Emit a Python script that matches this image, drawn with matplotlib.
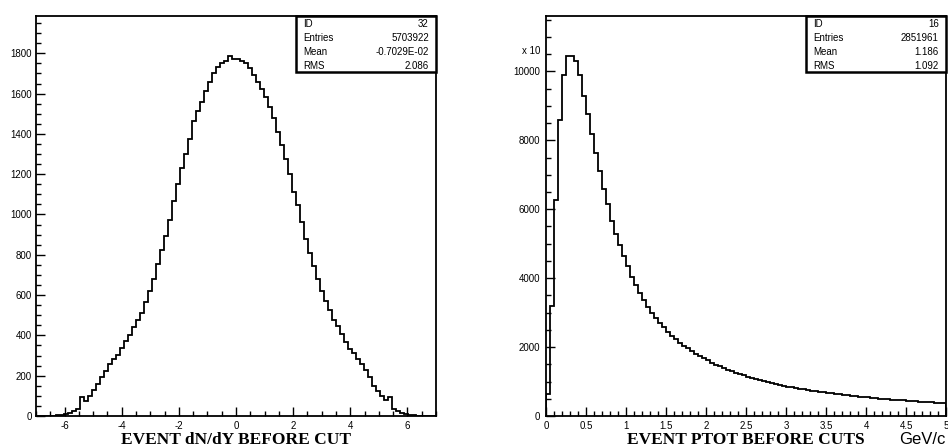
import numpy as np
import matplotlib
matplotlib.use("Agg")
import matplotlib.pyplot as plt
from matplotlib import font_manager
from matplotlib.patches import Rectangle
from matplotlib.ticker import MultipleLocator, FormatStrFormatter

# pick the regular (not Narrow) Liberation Sans as a Helvetica stand-in
sans = "Liberation Sans"
for f in font_manager.fontManager.ttflist:
    if f.name == "Liberation Sans" and "Narrow" not in f.fname \
            and f.style == "normal" and f.weight in (400, "normal"):
        font_manager.fontManager.addfont(f.fname)
        sans = font_manager.FontProperties(fname=f.fname).get_name()
        sans_file = f.fname
        break
else:
    sans_file = None

plt.rcParams["font.family"] = [sans, "DejaVu Sans"]
plt.rcParams["axes.unicode_minus"] = False

# ---------------------------------------------------------------------------
# Histogram 32 : EVENT dN/dY BEFORE CUT  (100 bins, -7 .. 7)
# ---------------------------------------------------------------------------
dndy_range = (-7.0, 7.0)
dndy_counts = [
    0, 0, 0, 0, 0, 3, 6, 9, 17, 25,
    33, 96, 74, 98, 127, 159, 192, 225, 256, 281,
    304, 336, 371, 402, 443, 475, 513, 564, 619, 680,
    753, 826, 892, 973, 1068, 1151, 1229, 1300, 1376, 1463,
    1515, 1560, 1615, 1659, 1701, 1734, 1754, 1764, 1787, 1774,
    1770, 1764, 1754, 1725, 1691, 1659, 1623, 1582, 1535, 1477,
    1411, 1343, 1277, 1201, 1113, 1047, 961, 880, 811, 746,
    682, 622, 571, 526, 476, 448, 405, 369, 334, 311,
    283, 256, 228, 192, 151, 126, 99, 78, 96, 36,
    26, 17, 12, 7, 5, 2, 0, 0, 0, 0,
]
dndy_stats = [("ID", "32"), ("Entries", "5703922"),
              ("Mean", "-0.7029E-02"), ("RMS", "2.086")]

# ---------------------------------------------------------------------------
# Histogram 16 : EVENT PTOT BEFORE CUTS  (100 bins, 0 .. 5 GeV/c), units x 10
# ---------------------------------------------------------------------------
ptot_range = (0.0, 5.0)
ptot_counts = [
    650, 3200, 6270, 8580, 9900, 10450, 10450, 10290, 9900, 9290,
    8760, 8170, 7640, 7100, 6600, 6140, 5670, 5280, 4950, 4630,
    4350, 4040, 3790, 3580, 3370, 3170, 3000, 2830, 2690, 2570,
    2440, 2330, 2240, 2130, 2040, 1960, 1880, 1810, 1740, 1680,
    1620, 1540, 1490, 1440, 1390, 1345, 1300, 1260, 1220, 1180,
    1140, 1105, 1070, 1040, 1010, 980, 955, 930, 905, 880,
    855, 830, 810, 790, 770, 750, 735, 718, 702, 688,
    675, 660, 645, 630, 615, 600, 588, 575, 563, 550,
    538, 527, 516, 505, 495, 485, 476, 467, 458, 450,
    442, 434, 426, 418, 410, 403, 396, 389, 382, 375,
]
ptot_stats = [("ID", "16"), ("Entries", "2851961"),
              ("Mean", "1.186"), ("RMS", "1.092")]


def style_axes(ax, ypad):
    for s in ax.spines.values():
        s.set_linewidth(1.3)
    ax.tick_params(axis="both", which="both", direction="in",
                   top=False, right=False, width=1.0, labelsize=7)
    ax.tick_params(axis="both", which="major", length=6.5)
    ax.tick_params(axis="both", which="minor", length=3.3)
    ax.tick_params(axis="y", which="major", pad=ypad)
    ax.tick_params(axis="x", which="major", pad=3.5)


def stats_box(ax, rows):
    ax.add_patch(Rectangle((0.65, 0.86), 0.35, 0.14, transform=ax.transAxes,
                           facecolor="white", edgecolor="black",
                           linewidth=1.8, zorder=5, clip_on=False))
    for i, (name, val) in enumerate(rows):
        y = 1.0 - (0.0192 + 0.035 * i)
        ax.text(0.667, y, name, transform=ax.transAxes, fontsize=7,
                va="center", ha="left", zorder=6)
        ax.text(0.982, y, val, transform=ax.transAxes, fontsize=7,
                va="center", ha="right", zorder=6)


fig = plt.figure(figsize=(9.48, 4.48), dpi=100)
ax1 = fig.add_axes([36 / 948, 32 / 448, 400 / 948, 400 / 448])
ax2 = fig.add_axes([546 / 948, 32 / 448, 400 / 948, 400 / 448])

label_y = -0.071

# left panel
edges1 = np.linspace(dndy_range[0], dndy_range[1], len(dndy_counts) + 1)
ax1.stairs(dndy_counts, edges1, color="black", linewidth=1.3)
ax1.set_xlim(*dndy_range)
ax1.set_ylim(0, 1985)
ax1.xaxis.set_major_locator(MultipleLocator(2))
ax1.xaxis.set_minor_locator(MultipleLocator(0.5))
ax1.yaxis.set_major_locator(MultipleLocator(200))
ax1.yaxis.set_minor_locator(MultipleLocator(50))
style_axes(ax1, ypad=3)
stats_box(ax1, dndy_stats)
ax1.text(0.5, label_y, "EVENT dN/dY BEFORE CUT", transform=ax1.transAxes,
         ha="center", va="baseline", fontsize=12.5, fontweight="bold",
         family="Liberation Serif")

# right panel
edges2 = np.linspace(ptot_range[0], ptot_range[1], len(ptot_counts) + 1)
ax2.stairs(ptot_counts, edges2, color="black", linewidth=1.3)
ax2.set_xlim(*ptot_range)
ax2.set_ylim(0, 11608)
ax2.xaxis.set_major_locator(MultipleLocator(0.5))
ax2.xaxis.set_minor_locator(MultipleLocator(0.1))
ax2.xaxis.set_major_formatter(FormatStrFormatter("%g"))
ax2.yaxis.set_major_locator(MultipleLocator(2000))
ax2.yaxis.set_minor_locator(MultipleLocator(500))
style_axes(ax2, ypad=4.3)
stats_box(ax2, ptot_stats)
ax2.annotate("x 10", xy=(0, 10600), xycoords=("axes fraction", "data"),
             xytext=(-4.3, 0), textcoords="offset points",
             ha="right", va="center", fontsize=7)
ax2.text(0.5, label_y, "EVENT PTOT BEFORE CUTS", transform=ax2.transAxes,
         ha="center", va="baseline", fontsize=12.5, fontweight="bold",
         family="Liberation Serif")
ax2.text(1.0, label_y, "GeV/c", transform=ax2.transAxes,
         ha="right", va="baseline", fontsize=12)

fig.savefig("out.png", dpi=100)
